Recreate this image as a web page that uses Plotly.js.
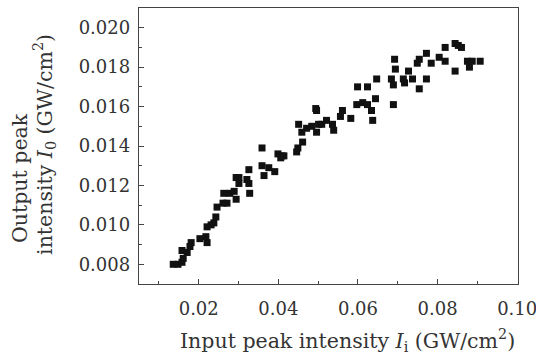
<!DOCTYPE html>
<html>
<head>
<meta charset="utf-8">
<script src="https://cdn.plot.ly/plotly-3.0.1.min.js"></script>
<style>html,body{margin:0;padding:0;background:#fff;}#chart{width:536px;height:356px;}</style>
</head>
<body>
<div id="chart"></div>
<script>
// Input peak intensity Ii (GW/cm^2)
const inputIntensity = [
  0.0136,0.0148,0.0158,0.0161,0.0158,0.0171,0.0178,0.0181,0.0203,0.0218,0.0221,0.0221,0.0231,0.0238,0.0243,0.0246,0.0261,0.0271,0.0263,0.0278,0.0289,0.0294,0.0294,0.0301,0.0301,0.0321,0.0326,0.0328,0.0326,0.0359,0.0359,0.0364,0.0376,
  0.0391,0.0399,0.0409,0.0414,0.0406,0.0446,0.0449,0.0461,0.0451,0.0459,0.0471,0.0484,0.0494,0.0496,0.0496,0.0501,0.0509,0.0521,0.0536,0.0539,0.0556,0.0561,0.0582,0.0597,0.0599,0.0612,0.0624,0.0624,0.0634,0.0637,0.0644,0.0647,
  0.0684,0.0689,0.0689,0.0692,0.0694,0.0714,0.0717,0.0727,0.0737,0.0754,0.0749,0.0754,0.0772,0.0772,0.0784,0.0804,0.0819,0.0819,0.0844,0.0852,0.0860,0.0844,0.0875,0.0880,0.0887,0.0907
];
// Output peak intensity I0 (GW/cm^2)
const outputIntensity = [
  0.0080,0.0080,0.0081,0.0083,0.0087,0.0086,0.0089,0.0091,0.0093,0.0094,0.0091,0.0099,0.0100,0.0101,0.0104,0.0109,0.0111,0.0111,0.0116,0.0116,0.0117,0.0113,0.0124,0.0121,0.0124,0.0123,0.0128,0.0116,0.0121,0.0139,0.0130,0.0125,0.0129,
  0.0127,0.0136,0.0135,0.0135,0.0134,0.0137,0.0139,0.0142,0.0151,0.0147,0.0149,0.0150,0.0159,0.0158,0.0147,0.0151,0.0151,0.0153,0.0151,0.0148,0.0155,0.0158,0.0154,0.0161,0.0170,0.0162,0.0170,0.0161,0.0158,0.0153,0.0164,0.0174,
  0.0174,0.0171,0.0161,0.0184,0.0179,0.0174,0.0172,0.0178,0.0174,0.0169,0.0182,0.0184,0.0187,0.0174,0.0182,0.0185,0.0190,0.0183,0.0192,0.0191,0.0190,0.0178,0.0183,0.0180,0.0183,0.0183
];
const xTickVals = [0.02,0.04,0.06,0.08,0.10];
const xTickText = ["0.02","0.04","0.06","0.08","0.10"];
const yTickVals = [0.008,0.010,0.012,0.014,0.016,0.018,0.020];
const yTickText = ["0.008","0.010","0.012","0.014","0.016","0.018","0.020"];

const fontFam = "DejaVu Serif, Liberation Serif, serif";
const trace = {
  x: inputIntensity, y: outputIntensity, type: 'scatter', mode: 'markers',
  marker: {symbol: 'square', size: 7, color: '#111'},
  hoverinfo: 'skip', cliponaxis: false
};
const axisCommon = {
  showline: true, mirror: true, linecolor: '#444', linewidth: 1.2,
  ticks: 'inside', ticklen: 5, tickcolor: '#444', tickwidth: 1,
  showgrid: false, zeroline: false,
  ticklabeloverflow: 'allow',
  tickfont: {family: fontFam, size: 18, color: '#333'}
};
const layout = {
  width: 536, height: 356,
  margin: {l: 139, r: 18, t: 8, b: 72},
  paper_bgcolor: '#fff', plot_bgcolor: '#fff',
  showlegend: false,
  xaxis: Object.assign({}, axisCommon, {
    range: [0.005, 0.1002], tickmode: 'array', tickvals: xTickVals, ticktext: xTickText,
    ticklabelstandoff: 8,
    minor: {dtick: 0.01, tick0: 0, ticks: 'inside', ticklen: 3, tickcolor: '#444', showgrid: false}
  }),
  yaxis: Object.assign({}, axisCommon, {
    range: [0.007, 0.021], tickmode: 'array', tickvals: yTickVals, ticktext: yTickText,
    ticklabelstandoff: 4,
    minor: {dtick: 0.001, tick0: 0, ticks: 'inside', ticklen: 3, tickcolor: '#444', showgrid: false}
  }),
  annotations: [
    {text: 'Input peak intensity <i>I</i><sub>i</sub> (GW/cm<sup>2</sup>)', xref: 'paper', yref: 'paper',
     x: 0.549, y: -0.203, xanchor: 'center', yanchor: 'middle', showarrow: false,
     font: {family: fontFam, size: 20.5, color: '#333'}},
    {text: 'Output peak', xref: 'paper', yref: 'paper', textangle: -90,
     x: -0.314, y: 0.384, xanchor: 'center', yanchor: 'middle', showarrow: false,
     font: {family: fontFam, size: 20.5, color: '#333'}},
    {text: 'intensity <i>I</i><sub>0</sub> (GW/cm<sup>2</sup>)', xref: 'paper', yref: 'paper', textangle: -90,
     x: -0.248, y: 0.504, xanchor: 'center', yanchor: 'middle', showarrow: false,
     font: {family: fontFam, size: 20.5, color: '#333'}}
  ]
};
Plotly.newPlot('chart', [trace], layout, {staticPlot: true, displayModeBar: false});
</script>
</body>
</html>
